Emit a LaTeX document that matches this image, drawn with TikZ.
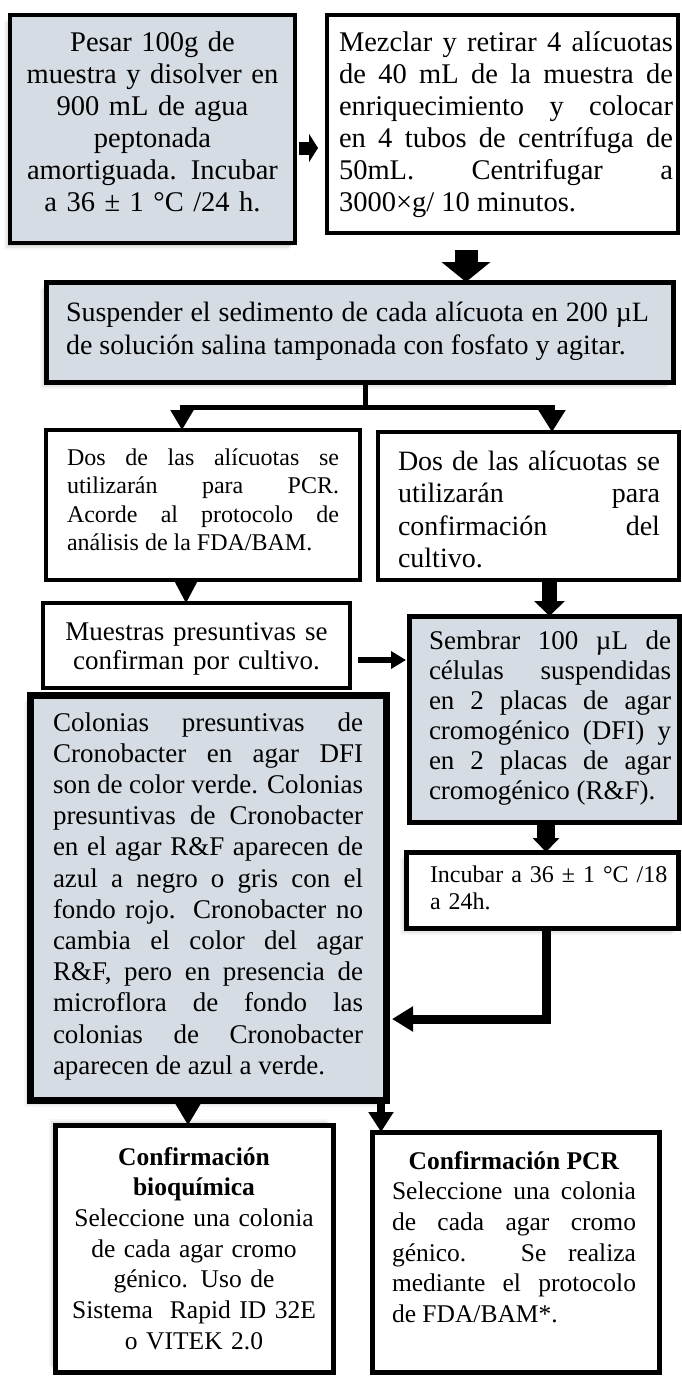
\documentclass[tikz,border=0pt]{standalone}
\usepackage{fontspec}
\setmainfont{Liberation Serif}
\usetikzlibrary{arrows.meta,calc,shadows}
\definecolor{boxgrey}{HTML}{D6DCE4}
\newcommand\ftTop{\fontsize{28.5}{32}\selectfont}
\newcommand\ftMid{\fontsize{28}{33}\selectfont}
\newcommand\ftSm{\fontsize{24}{28.5}\selectfont}
\newcommand\ftBox{\fontsize{28}{32.5}\selectfont}
\newcommand\ftSe{\fontsize{27}{30}\selectfont}
\newcommand\ftCol{\fontsize{27}{31.2}\selectfont}
\newcommand\ftMu{\fontsize{27}{29.5}\selectfont}
\newcommand\ftInc{\fontsize{24}{27}\selectfont}
\newcommand\ftConf{\fontsize{25.5}{30.7}\selectfont}
\tikzset{
  gbox/.style={draw=black, fill=boxgrey, inner sep=0pt, outer sep=0pt, anchor=north west, line join=miter},
  wbox/.style={draw=black, fill=white, inner sep=0pt, outer sep=0pt, anchor=north west, line join=miter},
  txt/.style={inner sep=0pt, anchor=base, execute at begin node={\hyphenpenalty=10000\tolerance=10000\relax}},
  blk/.style={draw=black, line join=miter},
  softsh/.style={
    general shadow={fill=black, opacity=0.04, shadow xshift=-6pt, shadow yshift=-7pt},
    general shadow={fill=black, opacity=0.06, shadow xshift=-4pt, shadow yshift=-5pt},
    general shadow={fill=black, opacity=0.08, shadow xshift=-2pt, shadow yshift=-3pt}},
  softshup/.style={
    general shadow={fill=black, opacity=0.04, shadow xshift=-6pt, shadow yshift=6pt},
    general shadow={fill=black, opacity=0.06, shadow xshift=-4pt, shadow yshift=4pt},
    general shadow={fill=black, opacity=0.08, shadow xshift=-2pt, shadow yshift=2pt}},
}
\begin{document}
\begin{tikzpicture}[x=1pt,y=-1pt]
\useasboundingbox (0,0) rectangle (681,1376);
\fill[white] (0,0) rectangle (681,1376);

% boxes
\node[gbox, softsh, line width=4.5pt, minimum width=285pt, minimum height=228pt] (b1) at (10,15) {};
\node[wbox, line width=4pt, minimum width=351pt, minimum height=218pt] (b2) at (327,15) {};
\node[gbox, softsh, line width=5pt, minimum width=627pt, minimum height=100pt] (b3) at (46,282) {};
\node[wbox, line width=4pt, minimum width=314pt, minimum height=150pt] (b4) at (46,430) {};
\node[wbox, line width=4pt, minimum width=301pt, minimum height=148pt] (b5) at (378,432) {};
\node[wbox, line width=4.5pt, minimum width=307pt, minimum height=85pt] (b6) at (43,603) {};
\node[gbox, line width=5pt, minimum width=270pt, minimum height=206pt] (b7) at (409,616) {};
\node[gbox, softsh, line width=7pt, minimum width=356pt, minimum height=405pt] (b8) at (30,695) {};
\node[wbox, softsh, line width=5pt, minimum width=272pt, minimum height=76pt] (b9) at (406,852) {};
\node[wbox, softshup, line width=5pt, minimum width=278pt, minimum height=247pt] (b10) at (55,1125) {};
\node[wbox, line width=5pt, minimum width=287pt, minimum height=240pt] (b11) at (372,1132) {};

% texts
\node[txt, text width=272pt, align=center, font=\ftTop] (t1) at ($(b1.north)+(0,36)$)
 {Pesar 100g de\\ muestra y disolver en\\ 900 mL de agua\\ peptonada\\ amortiguada. Incubar\\ a 36 ± 1 °C /24 h.};
\node[txt, text width=334pt, align=justify, font=\ftTop] (t2) at ($(b2.north)+(3.5,36)$)
 {Mezclar y retirar 4 alícuotas\linebreak de 40 mL de la muestra de\linebreak enriquecimiento y colocar\linebreak en 4 tubos de centrífuga de\linebreak 50mL. Centrifugar a\linebreak 3000×g/ 10 minutos.};
\node[txt, text width=583pt, align=justify, font=\ftMid] (t3) at ($(b3.north)+(-2,39)$)
 {Suspender el sedimento de cada alícuota en 200 µL\linebreak de solución salina tamponada con fosfato y agitar.};
\node[txt, text width=272pt, align=justify, font=\ftSm] (t4) at ($(b4.north)+(0,35)$)
 {Dos de las alícuotas se\linebreak utilizarán para PCR.\linebreak Acorde al protocolo de\linebreak análisis de la FDA/BAM.};
\node[txt, text width=262pt, align=justify, font=\ftBox] (t5) at ($(b5.north)+(0.5,38)$)
 {Dos de las alícuotas se\linebreak utilizarán para\linebreak confirmación del\linebreak cultivo.};
\node[txt, text width=290pt, align=center, font=\ftMu] (t6) at ($(b6.north)+(0,37)$)
 {Muestras presuntivas se\\ confirman por cultivo.};
\node[txt, text width=242pt, align=justify, font=\ftSe] (t7) at ($(b7.north)+(6,33)$)
 {Sembrar 100 µL de\linebreak células suspendidas\linebreak en 2 placas de agar\linebreak cromogénico (DFI) y\linebreak en 2 placas de agar\linebreak cromogénico (R\&F).};
\node[txt, text width=310pt, align=justify, font=\ftCol] (t8) at ($(b8.north)+(0,36)$)
 {Colonias presuntivas de\linebreak Cronobacter en agar DFI\linebreak son de color verde. Colonias\linebreak presuntivas de Cronobacter\linebreak en el agar R\&F aparecen de\linebreak azul a negro o gris con el\linebreak fondo rojo. Cronobacter no\linebreak cambia el color del agar\linebreak R\&F, pero en presencia de\linebreak microflora de fondo las\linebreak colonias de Cronobacter\linebreak aparecen de azul a verde.};
\node[txt, text width=248pt, align=left, font=\ftInc] (t9) at ($(b9.north)+(12,30)$)
 {Incubar a 36 ± 1 °C /18\\ a 24h.};
\node[txt, text width=260pt, align=center, font=\ftConf] (t10) at ($(b10.north)+(0,40)$)
 {\textbf{Confirmación}\\ \textbf{bioquímica}\\ Seleccione una colonia\\ de cada agar cromo\\ génico. Uso de\\ Sistema\ \ Rapid ID 32E\\ o VITEK 2.0};
\node[txt, text width=244pt, align=justify, font=\ftConf] (t11) at ($(b11.north)+(-1.5,37)$)
 {{\centering\textbf{Confirmación PCR}\par}Seleccione una colonia\linebreak de cada agar cromo\linebreak génico. Se realiza\linebreak mediante el protocolo\linebreak de FDA/BAM*.};

% connectors
\draw[blk, line width=13pt, -{Triangle[width=28pt,length=9pt]}] ($(b1.east)+(4,19)$) -- ($(b2.west)+(-9,24)$);
\coordinate (a2s) at ($(b2.south)+(-36.5,17)$);
\draw[blk, line width=23pt, -{Triangle[width=48pt,length=20pt]}] (a2s) -- (a2s |- b3.north);
\coordinate (j) at ($(b3.south)+(5.5,25)$);
\draw[blk, line width=5pt] ($(b3.south)+(5.5,0)$) -- (j);
\draw[blk, line width=5pt, -{Triangle[width=22pt,length=20pt]}] (j) -| ($(b4.north west)+(136,0)$);
\draw[blk, line width=5pt, -{Triangle[width=26pt,length=22pt]}] (j) -| ($(b5.north west)+(174,0)$);
\draw[blk, line width=1pt, -{Triangle[width=22pt,length=21pt]}] ($(b4.south west)+(140,0)$) -- ($(b6.north west)+(143,0)$);
\draw[blk, line width=15pt, -{Triangle[width=30pt,length=15pt]}] ($(b5.south)+(21,2)$) -- ($(b7.north)+(5.5,0)$);
\draw[blk, line width=6pt, -{Triangle[width=17pt,length=15pt]}] ($(b6.east)+(8,14.5)$) -- ($(b7.west)+(-3,-59)$);
\draw[blk, line width=18pt, -{Triangle[width=26pt,length=14pt]}] ($(b7.south)+(2,0)$) -- ($(b9.north)+(4,0)$);
\draw[blk, line width=9pt, -{Triangle[width=24pt,length=21pt]}] ($(b9.south)+(4,0)$) |- ($(b8.east)+(6,121.5)$);
\draw[blk, line width=1pt, -{Triangle[width=26pt,length=22pt]}] ($(b8.south west)+(158,0)$) -- ($(b10.north west)+(133,0)$);
\draw[blk, line width=8pt, -{Triangle[width=24pt,length=20pt]}] ($(b8.south east)+(-5,3)$) -- ($(b11.north west)+(9,0)$);
\end{tikzpicture}
\end{document}
